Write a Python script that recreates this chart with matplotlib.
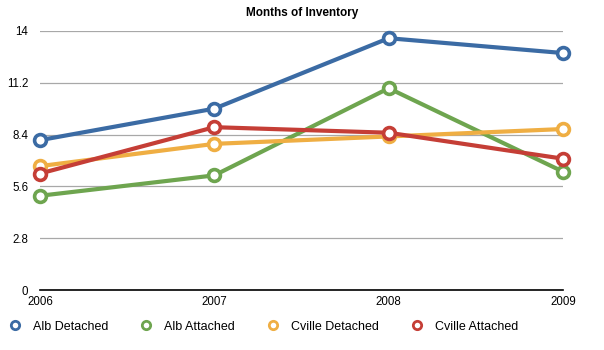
import matplotlib
matplotlib.use("Agg")
import matplotlib.pyplot as plt
from matplotlib.lines import Line2D

plt.rcParams['font.family'] = ['Liberation Sans', 'DejaVu Sans']

years = ['2006', '2007', '2008', '2009']
alb_detached = [8.1, 9.8, 13.6, 12.8]
alb_attached = [5.1, 6.2, 10.9, 6.4]
cville_detached = [6.7, 7.9, 8.3, 8.7]
cville_attached = [6.3, 8.8, 8.5, 7.1]
yticks = [0, 2.8, 5.6, 8.4, 11.2, 14]

series = [
    ('Alb Detached', alb_detached, '#3b6ba4'),
    ('Alb Attached', alb_attached, '#6ea54f'),
    ('Cville Detached', cville_detached, '#efae43'),
    ('Cville Attached', cville_attached, '#c53e36'),
]

fig = plt.figure(figsize=(6.04, 3.5), dpi=100)
ax = fig.add_axes([0.0662, 0.1706, 0.866, 0.7414])

x = list(range(len(years)))
# draw in an order so blue on top like the reference
for name, vals, col in [series[1], series[2], series[3], series[0]]:
    ax.plot(x, vals, color=col, lw=3, marker='o', ms=8.5, mfc='white',
            mec=col, mew=2.6, solid_capstyle='round', zorder=3, clip_on=False)

ax.set_xlim(0, 3)
ax.set_ylim(0, 14)
ax.set_yticks(yticks)
ax.set_yticklabels(['0', '2.8', '5.6', '8.4', '11.2', '14'])
ax.set_xticks(x)
ax.set_xticklabels(years)
ax.yaxis.grid(True, color='#a8a8a8', lw=0.9)
ax.set_axisbelow(True)
for s in ['top', 'right', 'left']:
    ax.spines[s].set_visible(False)
ax.spines['bottom'].set_color('black')
ax.spines['bottom'].set_linewidth(1.2)
ax.tick_params(axis='both', length=0, labelsize=8.3, colors='black')
ax.tick_params(axis='y', pad=8.5)
ax.tick_params(axis='x', pad=4)

fig.text(0.5, 0.962, 'Months of Inventory', ha='center', va='center',
         fontsize=8.5, fontweight='bold')

handles = [Line2D([], [], ls='none', marker='o', ms=6, mfc='white', mec=c, mew=2)
           for _, _, c in series]
fig.legend(handles, [s[0] for s in series], loc='center left',
           bbox_to_anchor=(-0.007, 0.067), ncol=4, frameon=False,
           fontsize=9, handletextpad=0.85, columnspacing=2.45, handlelength=1.2)

fig.savefig('out.png', dpi=100)
